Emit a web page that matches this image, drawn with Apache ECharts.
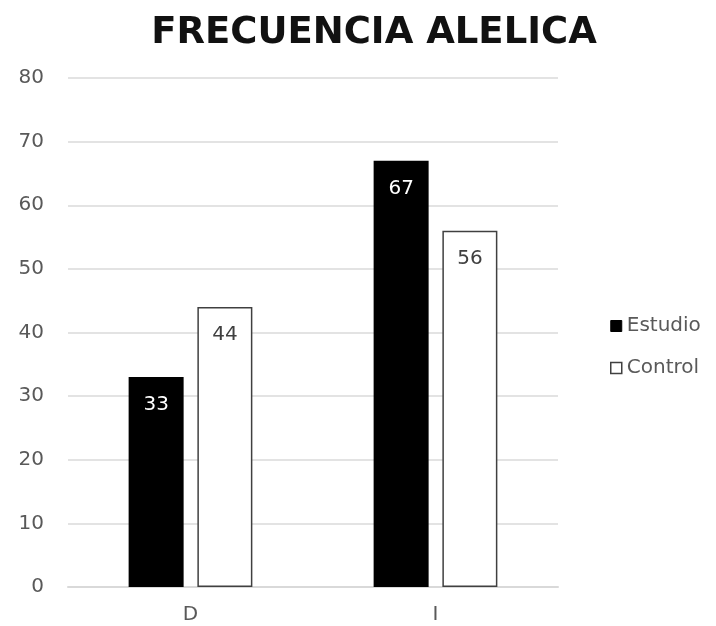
<!DOCTYPE html>
<html>
<head>
<meta charset="utf-8">
<script src="https://cdn.jsdelivr.net/npm/echarts@6/dist/echarts.min.js"></script>
<style>
  html, body { margin: 0; padding: 0; background: #fff; }
  #chart { width: 716px; height: 626px; }
</style>
</head>
<body>
<div id="chart"></div>
<script>
// Allele frequency by genotype category
const categories = ['D', 'I'];
const estudio = [33, 67];
const control = [44, 56];
const yTicks = { min: 0, max: 80, interval: 10 };

const chart = echarts.init(document.getElementById('chart'));
const font = '"DejaVu Sans", Arial, sans-serif';

chart.setOption({
  backgroundColor: '#ffffff',
  animation: false,
  title: {
    text: 'FRECUENCIA ALELICA',
    left: 369,
    textAlign: 'center',
    top: 10,
    textStyle: { fontFamily: font, fontWeight: 'bold', fontSize: 37, color: '#111' }
  },
  legend: {
    orient: 'vertical',
    left: 605,
    top: 311,
    itemWidth: 11,
    itemHeight: 11,
    itemGap: 22,
    icon: 'rect',
    textStyle: { fontFamily: font, fontSize: 20, color: '#595959' },
    data: [
      { name: 'Estudio', itemStyle: { color: '#000', borderColor: '#000', borderWidth: 1 } },
      { name: 'Control', itemStyle: { color: '#fff', borderColor: '#404040', borderWidth: 1.5 } }
    ]
  },
  grid: { left: 68, right: 158, top: 78, bottom: 39 },
  xAxis: {
    type: 'category',
    data: categories,
    axisTick: { show: false },
    axisLine: { lineStyle: { color: '#d9d9d9', width: 2 } },
    axisLabel: { fontFamily: font, fontSize: 20, color: '#595959', margin: 18 }
  },
  yAxis: {
    type: 'value',
    min: yTicks.min,
    max: yTicks.max,
    interval: yTicks.interval,
    axisLine: { show: false },
    axisTick: { show: false },
    splitLine: { lineStyle: { color: '#e3e3e3', width: 2 } },
    axisLabel: { fontFamily: font, fontSize: 20, color: '#595959', margin: 24 }
  },
  series: [
    {
      name: 'Estudio',
      type: 'bar',
      data: estudio,
      barWidth: 55,
      barGap: '25%',
      itemStyle: { color: '#000' },
      label: {
        show: true,
        position: 'insideTop',
        distance: 18,
        fontFamily: font,
        fontSize: 20,
        color: '#ffffff'
      }
    },
    {
      name: 'Control',
      type: 'bar',
      data: control,
      barWidth: 55,
      itemStyle: { color: '#fff', borderColor: '#404040', borderWidth: 1.5 },
      label: {
        show: true,
        position: 'insideTop',
        distance: 18,
        fontFamily: font,
        fontSize: 20,
        color: '#404040'
      }
    }
  ]
});
</script>
</body>
</html>
